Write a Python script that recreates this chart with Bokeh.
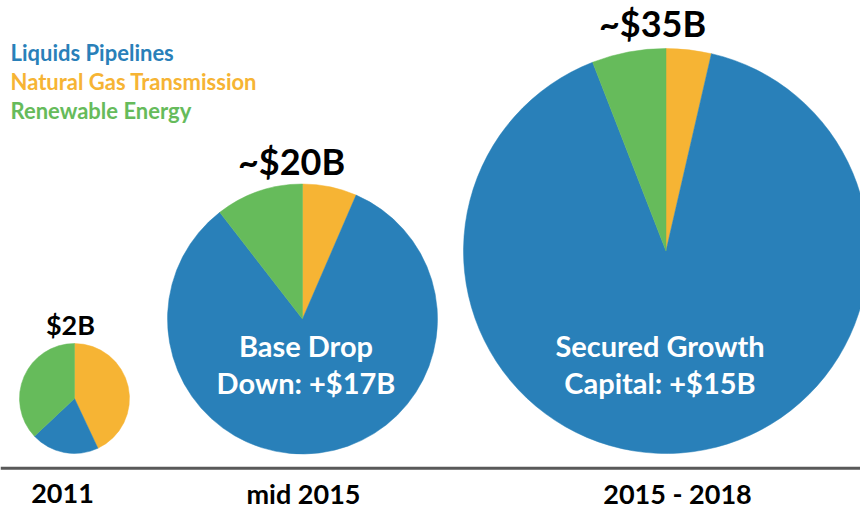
import math
from bokeh.plotting import figure
from bokeh.models import Range1d, Span
from bokeh.core.properties import value
from bokeh.embed import file_html
from bokeh.resources import INLINE

# ---- data ----
categories = ["Liquids Pipelines", "Natural Gas Transmission", "Renewable Energy"]
periods = ["2011", "mid 2015", "2015 - 2018"]
totals = ["$2B", "~$20B", "~$35B"]
liquids = [20.0, 83.0, 90.5]      # share of capital program (%)
gas = [43.0, 6.5, 3.6]
renewable = [37.0, 10.5, 5.9]
notes_line1 = ["", "Base Drop", "Secured Growth"]
notes_line2 = ["", "Down: +$17B", "Capital: +$15B"]

# ---- layout (screen px, y measured downwards) ----
W, H = 860, 513
cx = [74, 302, 665.5]
cy = [398, 318.5, 250.5]
rad = [55, 135, 202.5]
total_x = [70, 291, 652]
total_base = [335, 176, 38]
total_size = [27, 36, 36]
note_x = [0, 305.5, 659.5]
period_x = [62, 303, 677]
period_base = 504

BLUE = "#2980B9"
ORANGE = "#F6B434"
GREEN = "#66BB5B"
FONT = "Lato"
K = 0.42  # baseline correction factor


def ty(base, size):
    return H - (base - K * size)


p = figure(width=W, height=H, output_backend="svg", toolbar_location=None,
           x_range=Range1d(0, W), y_range=Range1d(0, H),
           min_border=0, outline_line_color=None)
p.axis.visible = False
p.grid.visible = False
p.background_fill_color = "white"
p.border_fill_color = "white"

# wedges: clockwise from 12 o'clock -> gas, liquids, renewable
for i in range(3):
    shares = [(gas[i], ORANGE), (liquids[i], BLUE), (renewable[i], GREEN)]
    tot = sum(s for s, _ in shares)
    cum = 0.0
    for s, col in shares:
        a0 = math.pi / 2 - 2 * math.pi * cum / tot
        cum += s
        a1 = math.pi / 2 - 2 * math.pi * cum / tot
        p.wedge(x=[cx[i]], y=[H - cy[i]], radius=rad[i], start_angle=[a0], end_angle=[a1],
                direction="clock", fill_color=col, line_color=col, line_width=0.5)

# baseline
p.add_layout(Span(location=H - 467.7, dimension="width", line_color="#595959", line_width=3))

# totals above pies
for i in range(3):
    p.text(x=[total_x[i]], y=[ty(total_base[i], total_size[i])], text=[totals[i]],
           text_font=value(FONT), text_font_style="bold", text_font_size=f"{total_size[i]}px",
           text_align="center", text_baseline="alphabetic", text_color="black")

# inner notes
NS = 29
for i in (1, 2):
    p.text(x=[note_x[i], note_x[i]], y=[ty(356.7, NS), ty(394.5, NS)],
           text=[notes_line1[i], notes_line2[i]],
           text_font=value(FONT), text_font_style="bold", text_font_size=f"{NS}px",
           text_align="center", text_baseline="alphabetic", text_color="white")

# period labels
PS = 27
for i in range(3):
    p.text(x=[period_x[i]], y=[ty(period_base, PS)], text=[periods[i]],
           text_font=value(FONT), text_font_style="bold", text_font_size=f"{PS}px",
           text_align="center", text_baseline="alphabetic", text_color="black")

# legend texts
LS = 22
leg_colors = [BLUE, ORANGE, GREEN]
leg_base = [61, 90, 119]
for i in range(3):
    p.text(x=[10], y=[ty(leg_base[i], LS)], text=[categories[i]],
           text_font=value(FONT), text_font_style="bold", text_font_size=f"{LS}px",
           text_align="left", text_baseline="alphabetic", text_color=leg_colors[i])

open("out.html", "w").write(file_html(p, INLINE))
